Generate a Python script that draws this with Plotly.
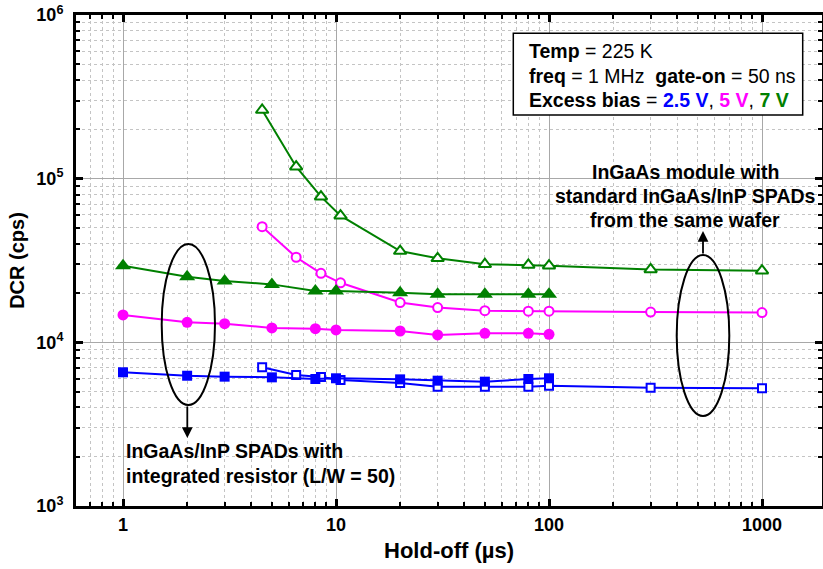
import plotly.graph_objects as go

# ---------------- data ----------------
# Integrated-resistor SPADs (filled markers)
x_int = [1, 2, 3, 5, 8, 10, 20, 30, 50, 80, 100]
dcr_int_25 = [6560, 6250, 6170, 6110, 5970, 6030, 5940, 5830, 5750, 5970, 6030]
dcr_int_5 = [14700, 13250, 13000, 12240, 12120, 11900, 11730, 11090, 11350, 11350, 11200]
dcr_int_7 = [29400, 25200, 23700, 22600, 20600, 20600, 20100, 19650, 19650, 19650, 19650]

# InGaAs module with standard SPADs (open markers)
x_mod = [4.5, 6.5, 8.5, 10.5, 20, 30, 50, 80, 100, 300, 1000]
dcr_mod_25 = [7040, 6320, 6140, 5890, 5650, 5360, 5360, 5360, 5430, 5280, 5240]
dcr_mod_5 = [50900, 33100, 26400, 23100, 17500, 16300, 15600, 15500, 15500, 15300, 15200]
dcr_mod_7 = [262800, 118400, 77600, 59400, 36100, 32600, 30000, 29700, 29400, 27900, 27400]

x_ticks = [1, 10, 100, 1000]
x_ticktext = ["1", "10", "100", "1000"]
x_minor = [0.7, 0.8, 0.9] + [m * 10 ** k for k in range(0, 3) for m in range(2, 10)]
y_ticks = [1e3, 1e4, 1e5, 1e6]
y_ticktext = ["10<sup>3</sup>", "10<sup>4</sup>", "10<sup>5</sup>", "10<sup>6</sup>"]
y_minor = [m * 10 ** k for k in range(3, 6) for m in range(2, 10)]

BLUE = "#0000FF"
MAGENTA = "#FF00FF"
GREEN = "#008000"
FONT = "Liberation Sans, Arial, sans-serif"

fig = go.Figure()

def add_filled(x, y, color, symbol, size):
    fig.add_trace(go.Scatter(
        x=x, y=y, mode="lines+markers",
        line=dict(color=color, width=2),
        marker=dict(symbol=symbol, size=size, color=color,
                    line=dict(width=0)),
        showlegend=False))

def add_open(x, y, color, symbol, size):
    fig.add_trace(go.Scatter(
        x=x, y=y, mode="lines+markers",
        line=dict(color=color, width=2),
        marker=dict(symbol=symbol, size=size, color="white",
                    line=dict(width=2, color=color)),
        showlegend=False))

add_open(x_mod, dcr_mod_25, BLUE, "square", 8)
add_open(x_mod, dcr_mod_5, MAGENTA, "circle", 9)
add_open(x_mod, dcr_mod_7, GREEN, "triangle-up", 11)
add_filled(x_int, dcr_int_25, BLUE, "square", 10)
add_filled(x_int, dcr_int_5, MAGENTA, "circle", 11)
add_filled(x_int, dcr_int_7, GREEN, "triangle-up", 14)

axis_common = dict(
    type="log", automargin=False,
    showline=True, linewidth=3, linecolor="black", mirror="allticks",
    ticks="inside", ticklen=7, tickwidth=3, tickcolor="black",
    showgrid=True, gridcolor="#a8a8a8", gridwidth=1,
    zeroline=False,
    tickfont=dict(family=FONT, size=18, color="black", weight="bold"),
)
minor_common = dict(ticks="inside", ticklen=4, tickwidth=2, tickcolor="black",
                    showgrid=True, gridcolor="#c4c4c4", griddash="dot", gridwidth=1)

fig.update_xaxes(**axis_common,
                 range=[-0.2207, 3.2817],
                 tickvals=x_ticks, ticktext=x_ticktext,
                 minor=dict(**minor_common, tickvals=x_minor),
                 title=dict(text="Hold-off (µs)", standoff=10,
                            font=dict(family=FONT, size=22, color="black", weight="bold")))
fig.update_yaxes(**axis_common,
                 range=[3, 6],
                 tickvals=y_ticks, ticktext=y_ticktext,
                 ticklabelstandoff=6,
                 minor=dict(**minor_common, tickvals=y_minor),
                 title=dict(text="DCR (cps)", standoff=7,
                            font=dict(family=FONT, size=20, color="black", weight="bold")))

# helpers: pixel -> paper
L, R, T, B = 76, 822, 15, 506
def px(x):
    return (x - L) / (R - L)
def py(y):
    return (B - y) / (B - T)

shapes = [
    dict(type="rect", xref="paper", yref="paper",
         x0=px(513.3), x1=px(802.7), y0=py(115), y1=py(33.3),
         line=dict(color="black", width=1.5), fillcolor="white", layer="above"),
    dict(type="circle", xref="paper", yref="paper",
         x0=px(161.7), x1=px(215), y0=py(405), y1=py(244),
         line=dict(color="black", width=2)),
    dict(type="circle", xref="paper", yref="paper",
         x0=px(676.7), x1=px(729.3), y0=py(416), y1=py(255),
         line=dict(color="black", width=2)),
]

afont = dict(family=FONT, size=19.5, color="black")
annotations = [
    dict(x=px(527), y=py(51), xref="paper", yref="paper", xanchor="left", yanchor="middle",
         text="<b>Temp</b> = 225 K", showarrow=False, font=afont),
    dict(x=px(527), y=py(75.5), xref="paper", yref="paper", xanchor="left", yanchor="middle",
         text="<b>freq</b> = 1 MHz\u00a0\u00a0<b>gate-on</b> = 50 ns", showarrow=False, font=afont),
    dict(x=px(527), y=py(99.5), xref="paper", yref="paper", xanchor="left", yanchor="middle",
         text=("<b>Excess bias</b> = <b><span style='color:#0000FF'>2.5 V</span></b>, "
               "<b><span style='color:#FF00FF'>5 V</span></b>, "
               "<b><span style='color:#008000'>7 V</span></b>"),
         showarrow=False, font=afont),
    dict(x=px(124), y=py(451), xref="paper", yref="paper", xanchor="left", yanchor="middle",
         text="<b>InGaAs/InP SPADs with</b>", showarrow=False, font=afont),
    dict(x=px(124), y=py(476), xref="paper", yref="paper", xanchor="left", yanchor="middle",
         text="<b>integrated resistor (L/W = 50)</b>", showarrow=False, font=afont),
    dict(x=px(685), y=py(171.5), xref="paper", yref="paper", xanchor="center", yanchor="middle",
         text="<b>InGaAs module with</b>", showarrow=False, font=afont),
    dict(x=px(685), y=py(196), xref="paper", yref="paper", xanchor="center", yanchor="middle",
         text="<b>standard InGaAs/InP SPADs</b>", showarrow=False, font=afont),
    dict(x=px(685), y=py(219.5), xref="paper", yref="paper", xanchor="center", yanchor="middle",
         text="<b>from the same wafer</b>", showarrow=False, font=afont),
    # arrows
    dict(x=px(187.3), y=py(438), xref="paper", yref="paper", ax=0, ay=-33,
         text="", showarrow=True, arrowhead=2, arrowsize=1.2, arrowwidth=1.8, arrowcolor="black"),
    dict(x=px(703), y=py(231), xref="paper", yref="paper", ax=0, ay=24,
         text="", showarrow=True, arrowhead=2, arrowsize=1.2, arrowwidth=1.8, arrowcolor="black"),
]

fig.update_layout(
    width=823, height=569,
    margin=dict(l=L, r=823 - R, t=T, b=569 - B),
    paper_bgcolor="white", plot_bgcolor="white",
    shapes=shapes, annotations=annotations,
    font=dict(family=FONT, color="black"),
    showlegend=False,
)

# remove the default 8px page margin so the figure sits at the window origin
fig.write_html("out.html",
               config={"displayModeBar": False},
               post_script="document.body.style.margin='0';document.body.style.overflow='hidden';")
